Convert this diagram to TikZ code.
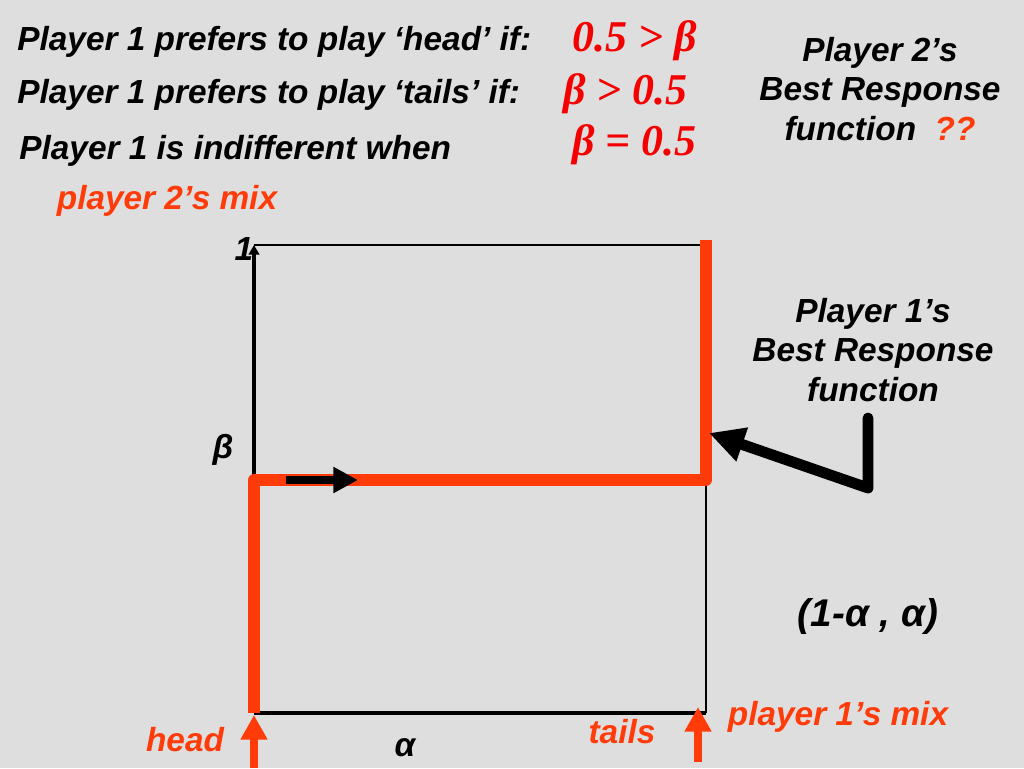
\documentclass[tikz,border=0pt]{standalone}
\usepackage{fontspec}
\setmainfont{Liberation Sans}
\newfontfamily\timesfont{Liberation Serif}
\usetikzlibrary{arrows.meta}
\definecolor{slidegray}{HTML}{DEDEDE}
\definecolor{bestred}{HTML}{FF3B0A}
\definecolor{mathred}{HTML}{F50000}
\tikzset{
	% ------- every something
	every node/.style={
		inner sep=0pt,
	},
	% ------- custom
	txt/.style={
		font=\fontsize{19}{22.7}\selectfont\bfseries\itshape,
	},
	mix/.style={
		txt,
		text=bestred,
	},
	cond/.style={
		font=\timesfont\fontsize{25}{28}\selectfont\bfseries\itshape,
		text=mathred,
	},
	frame/.style={
		line width=1.3pt,
	},
	axis/.style={
		line width=1.9pt,
		-{Triangle[length=5.5pt,width=6pt]},
	},
	best response/.style={
		line width=6.6pt,
		bestred,
		line join=round,
	},
	push/.style={
		line width=4.5pt,
		-{Triangle[length=14pt,width=14pt]},
	},
	pointer/.style={
		line width=6.2pt,
		line join=round,
		line cap=round,
		-{Triangle[length=20pt,width=19pt]},
	},
	strategy/.style={
		line width=4.5pt,
		bestred,
		-{Triangle[length=14pt,width=14.5pt]},
	},
}

\begin{document}
\begin{tikzpicture}[x=0.02cm, y=-0.02cm]

% background %{{{1

	\fill[slidegray] (0,0) rectangle (1024,768);
	\useasboundingbox (0,0) rectangle (1024,768);

% coordinates %{{{1

	\coordinate (O)  at (254,713);
	\coordinate (Xe) at (706,713);
	\coordinate (Ye) at (254,245);
	\coordinate (TR) at (706,245);

	\coordinate (Lb) at (254,480);
	\coordinate (Rb) at (706,480);
	\coordinate (Rt) at (706,240);

	\coordinate (pushA) at (286,480);
	\coordinate (pushB) at (358,480);

	\coordinate (pbTop)    at (868,418);
	\coordinate (pbCorner) at (868,488);
	\coordinate (pbTip)    at (709,433);

	\coordinate (headA) at (254,768);
	\coordinate (headB) at (254,715);
	\coordinate (tailA) at (698,762);
	\coordinate (tailB) at (698,707);

% conditions %{{{1

	\node[txt, anchor=base west] (headpref) at (17,50)  {Player 1 prefers to play ‘head’ if:};
	\node[txt, anchor=base west] (tailpref) at (17,103) {Player 1 prefers to play ‘tails’ if:};
	\node[txt, anchor=base west] (indiff)   at (19,159) {Player 1 is indifferent when};

	\node[cond, anchor=base west] (condhead) at (572,51)  {0.5 > β};
	\node[cond, anchor=base west] (condtail) at (563,104) {β > 0.5};
	\node[cond, anchor=base west] (condind)  at (572,155) {β = 0.5};

% best response texts %{{{1

	\node[txt, align=center] (brtwo) at (880,89)
		{Player 2’s\\Best Response\\function \ {\color{bestred}??}};
	\node[txt, align=center] (brone) at (873,350)
		{Player 1’s\\Best Response\\function};

% axes and frame %{{{1

	\draw[frame] (Ye) -- (TR);
	\draw[frame] (Rb) -- (Xe);
	\draw[frame, line width=2.2pt] (O) -- (Xe);
	\draw[axis] (O) -- (Ye);

% best response of player 1 %{{{1

	\draw[best response] (O) -- (Lb) -- (Rb) -- (Rt);
	\draw[push] (pushA) -- (pushB);
	\draw[pointer] (pbTop) -- (pbCorner) -- (pbTip);

% strategy arrows %{{{1

	\draw[strategy] (headA) -- (headB);
	\draw[strategy] (tailA) -- (tailB);

% axis labels %{{{1

	\node[txt] (lblone)   at (244,249) {1};
	\node[txt] (lblbeta)  at (223,450) {β};
	\node[txt] (lblalpha) at (405,748) {α};

	\node[mix] (mixtwo)  at (167,201) {player 2’s mix};
	\node[mix] (mixone)  at (838,717) {player 1’s mix};
	\node[mix] (lblhead) at (185,740) {head};
	\node[mix] (lbltail) at (622,732) {tails};

	\node[txt, font=\fontsize{22}{26}\selectfont\bfseries\itshape] (mixpoint) at (868,616) {(1-α , α)};

% closing %{{{1

\end{tikzpicture}
\end{document}
